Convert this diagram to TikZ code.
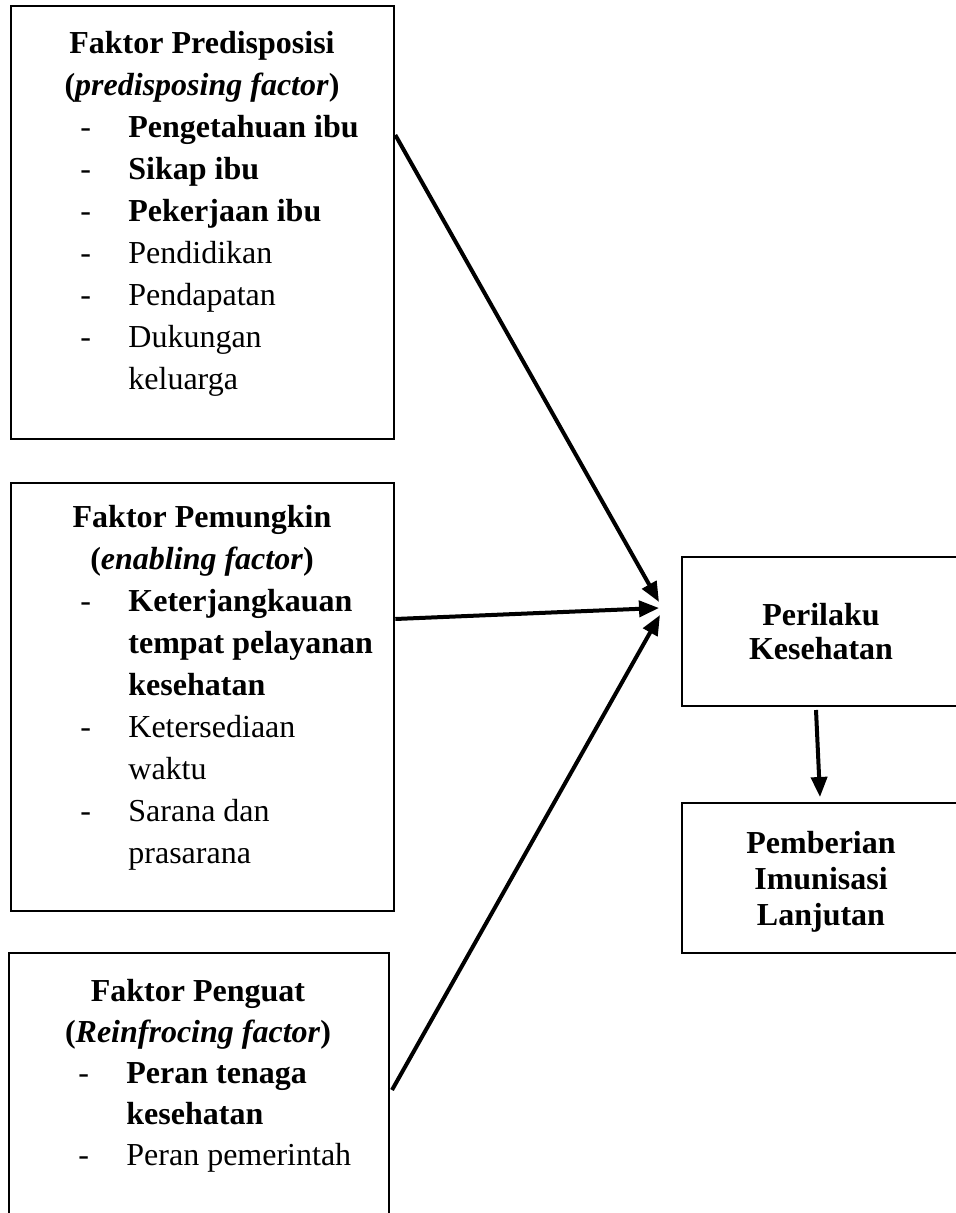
\documentclass[tikz,border=0pt]{standalone}
\usepackage{fontspec}
\setmainfont{Liberation Serif}
\usetikzlibrary{arrows.meta}
\begin{document}
\begin{tikzpicture}[x=0.5pt,y=-0.5pt,
  box/.style={draw=black,line width=1.3pt,rectangle,inner sep=0pt},
  conn/.style={line width=2pt,-{Triangle[length=10pt,width=8pt]}},
  txt/.style={anchor=base,inner sep=0pt,font=\fontsize{16}{21}\selectfont},
  txtl/.style={anchor=base west,inner sep=0pt,font=\fontsize{16}{21}\selectfont}]
\clip (0,0) rectangle (956,1213);
\useasboundingbox (0,0) rectangle (956,1213);
% boxes
\node[box,minimum width=191.5pt,minimum height=216.5pt] (b1) at (202.5,222.5) {};
\node[box,minimum width=191.5pt,minimum height=214pt] (b2) at (202.5,697) {};
\node[box,minimum width=190pt,minimum height=140pt] (b3) at (199,1093) {};
\node[box,minimum width=144pt,minimum height=74.5pt] (r1) at (826,631.5) {};
\node[box,minimum width=144pt,minimum height=75pt] (r2) at (826,878) {};
% box 1 text
\node[txt] (t1a) at (202,54) {\textbf{Faktor Predisposisi}};
\node[txt] (t1b) at (202,96) {\textbf{(}\textbf{\textit{predisposing factor}}\textbf{)}};
\foreach \y/\t/\n in {138/{\textbf{Pengetahuan ibu}}/1,180/{\textbf{Sikap ibu}}/2,222/{\textbf{Pekerjaan ibu}}/3,264/Pendidikan/4,306/Pendapatan/5,348/Dukungan/6}{
  \node[txtl] (d1\n) at (80,\y) {-};
  \node[txtl] (i1\n) at (128,\y) {\t};
}
\node[txtl] (i17) at (128,390) {keluarga};
% box 2 text
\node[txt] (t2a) at (202,527) {\textbf{Faktor Pemungkin}};
\node[txt] (t2b) at (202,569) {\textbf{(}\textbf{\textit{enabling factor}}\textbf{)}};
\node[txtl] (d21) at (80,611) {-};
\node[txtl] (i21) at (128,611) {\textbf{Keterjangkauan}};
\node[txtl] (i22) at (128,653) {\textbf{tempat pelayanan}};
\node[txtl] (i23) at (128,695) {\textbf{kesehatan}};
\node[txtl] (d24) at (80,737) {-};
\node[txtl] (i24) at (128,737) {Ketersediaan};
\node[txtl] (i25) at (128,779) {waktu};
\node[txtl] (d26) at (80,821) {-};
\node[txtl] (i26) at (128,821) {Sarana dan};
\node[txtl] (i27) at (128,863) {prasarana};
% box 3 text
\node[txt] (t3a) at (198,1001) {\textbf{Faktor Penguat}};
\node[txt] (t3b) at (198,1042) {\textbf{(}\textbf{\textit{Reinfrocing factor}}\textbf{)}};
\node[txtl] (d31) at (78,1083) {-};
\node[txtl] (i31) at (126,1083) {\textbf{Peran tenaga}};
\node[txtl] (i32) at (126,1124) {\textbf{kesehatan}};
\node[txtl] (d33) at (78,1165) {-};
\node[txtl] (i33) at (126,1165) {Peran pemerintah};
% right texts
\node[txt] (r1a) at (821,625) {\textbf{Perilaku}};
\node[txt] (r1b) at (821,659) {\textbf{Kesehatan}};
\node[txt] (r2a) at (821,853) {\textbf{Pemberian}};
\node[txt] (r2b) at (821,889) {\textbf{Imunisasi}};
\node[txt] (r2c) at (821,925) {\textbf{Lanjutan}};
% connector points
\coordinate (s1) at (b1.east |- 0,135);
\coordinate (s2) at (b2.east |- 0,619);
\coordinate (s3) at (392,1090);
\coordinate (e1) at (659,602);
\coordinate (e2) at (659,608);
\coordinate (e3) at (660,615);
\coordinate (s4) at (816,710);
\coordinate (e4) at (820,797);
\draw[conn] (s1) -- (e1);
\draw[conn] (s2) -- (e2);
\draw[conn] (s3) -- (e3);
\draw[conn] (s4) -- (e4);
\end{tikzpicture}
\end{document}
